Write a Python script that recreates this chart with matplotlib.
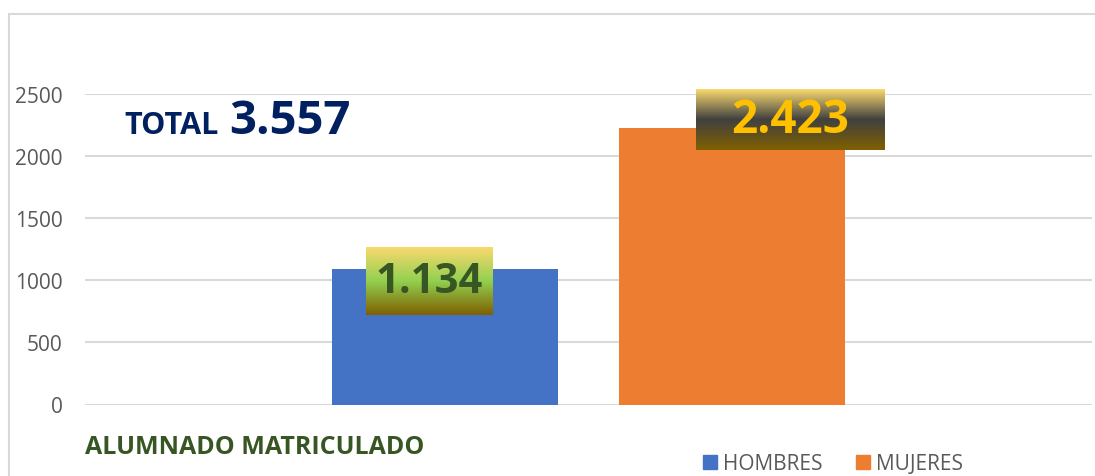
import matplotlib.pyplot as plt
import numpy as np
from matplotlib.colors import LinearSegmentedColormap
from matplotlib.patches import Rectangle

# datos
grupos = ['HOMBRES', 'MUJERES']
valores = [1091, 2226]           # altura de las barras
etiquetas = ['1.134', '2.423']    # texto de las etiquetas
total = '3.557'
titulo = 'ALUMNADO MATRICULADO'
ticks = [0, 500, 1000, 1500, 2000, 2500]

colores = ['#4472C4', '#ED7D31']
col_texto = ['#375623', '#FFC000']
grad = [['#F8D96E', '#92D050', '#7F6000'], ['#F8D96E', '#404040', '#7F6000']]
# desplazamiento de la etiqueta (x en ejes, y en datos) y tamaño de la caja
dx = [-0.0155, 0.0575]
dy = [-97, 69]
caja_w = [0.126, 0.187]
caja_h = [547, 491]
tam = [30, 33]

plt.rcParams['font.family'] = ['Open Sans', 'DejaVu Sans']

W, H = 1095, 477
fig = plt.figure(figsize=(W / 100, H / 100), dpi=100)
ax = fig.add_axes([85 / W, (H - 405.5) / H, 1007 / W, 310.5 / H])

x = np.array([0.3575, 0.6425])
ax.bar(x, valores, width=0.2244, color=colores, zorder=2)

for i in range(2):
    cx = x[i] + dx[i]
    cy = valores[i] + dy[i]
    cmap = LinearSegmentedColormap.from_list('g%d' % i, grad[i])
    img = np.linspace(0, 1, 100).reshape(-1, 1)
    ax.imshow(img, cmap=cmap, aspect='auto', origin='upper', zorder=3,
              extent=[cx - caja_w[i] / 2, cx + caja_w[i] / 2,
                      cy - caja_h[i] / 2, cy + caja_h[i] / 2], clip_on=False)
    ax.text(cx, cy, etiquetas[i], ha='center', va='center', fontsize=tam[i],
            fontweight='bold', color=col_texto[i], zorder=4)

ax.set_xlim(0, 1)
ax.set_ylim(0, 2500)
ax.set_yticks(ticks)
ax.set_xticks([])
ax.yaxis.grid(True, color='#D9D9D9', linewidth=1.5, zorder=0)
ax.set_axisbelow(True)
for s in ax.spines.values():
    s.set_visible(False)
ax.tick_params(axis='y', length=0, pad=16, labelsize=15, labelcolor='#595959')

# borde del area del grafico
fig.patches.append(Rectangle((9 / W, -0.1), 1.2, (H - 15) / H + 0.1,
                             transform=fig.transFigure, fill=False,
                             edgecolor='#D9D9D9', linewidth=1.5))

fig.text(124 / W, (H - 134) / H, 'TOTAL', fontsize=22, fontweight='bold',
         color='#002060', va='baseline')
fig.text(229 / W, (H - 134) / H, total, fontsize=34, fontweight='bold',
         color='#002060', va='baseline')
fig.text(85 / W, (H - 454) / H, titulo, fontsize=18, fontweight='bold',
         color='#375623', va='baseline')

handles = [Rectangle((0, 0), 1, 1, color=c) for c in colores]
fig.legend(handles, grupos, loc='center left', bbox_to_anchor=(693 / W, (H - 465) / H),
           ncol=2, frameon=False, fontsize=15, handlelength=0.65, handleheight=0.65,
           handletextpad=0.3, columnspacing=1.6, labelcolor='#595959', borderpad=0)

fig.savefig('out.png', dpi=100)
